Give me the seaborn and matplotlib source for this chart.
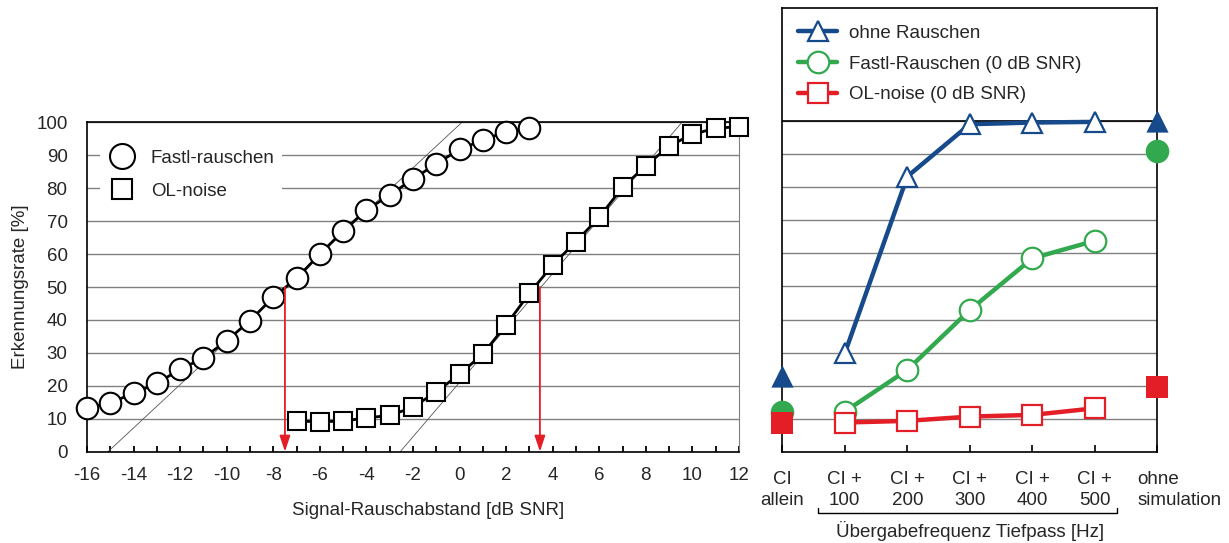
import matplotlib
matplotlib.use('Agg')
import matplotlib.pyplot as plt
import seaborn as sns
from matplotlib.lines import Line2D
from matplotlib import transforms

sns.set_style('white')
plt.rcParams['font.family'] = ['Liberation Sans', 'DejaVu Sans']
plt.rcParams['font.size'] = 13.5
plt.rcParams['axes.unicode_minus'] = False

# --- left panel: recognition rate vs SNR
snr_fastl = list(range(-16, 4))
rate_fastl = [13.2, 14.9, 17.7, 20.8, 25.0, 28.5, 33.7, 39.8, 46.9, 52.6,
              60.0, 67.0, 73.4, 77.9, 82.8, 87.4, 91.8, 94.6, 97.2, 98.2]
snr_ol = list(range(-7, 13))
rate_ol = [9.3, 9.1, 9.3, 10.3, 11.0, 13.5, 18.2, 23.5, 29.7, 38.5,
           48.1, 56.7, 63.8, 71.2, 80.3, 86.8, 92.8, 96.4, 98.2, 98.7]

# thin fit lines and 50% thresholds
fit_fastl_x = [-15.1, 0.1]
fit_ol_x = [-2.55, 9.55]
fit_y = [0, 100]
threshold_x = [-7.5, 3.45]
threshold_y = 50

# --- right panel: CI simulation conditions
conditions = ['CI\nallein', 'CI +\n100', 'CI +\n200', 'CI +\n300',
              'CI +\n400', 'CI +\n500', 'ohne\nsimulation']
lp_pos = [1, 2, 3, 4, 5]
quiet = [29.8, 83.2, 99.0, 99.5, 99.7]
fastl_0db = [12.2, 24.8, 42.9, 58.5, 63.8]
ol_0db = [8.9, 9.4, 10.7, 11.2, 13.2]
ci_alone = {'quiet': 23.0, 'fastl': 12.2, 'ol': 8.7}
no_sim = {'quiet': 100.0, 'fastl': 91.0, 'ol': 19.5}

blue = '#174a8b'
green = '#33a94f'
red = '#e41e26'
grid_c = '#808080'

fig = plt.figure(figsize=(12.29, 5.43), dpi=100)
ax1 = fig.add_axes([0.0708, 0.1681, 0.5305, 0.6066])
ax2 = fig.add_axes([0.6365, 0.1676, 0.3053, 0.8177])

# ---------- left
ax1.set_xlim(-16, 12)
ax1.set_ylim(0, 100)
ax1.set_yticks(range(0, 101, 10))
ax1.set_xticks(range(-16, 13, 2))
ax1.set_xticks(range(-16, 13, 1), minor=True)
ax1.grid(axis='y', color=grid_c, lw=1)
ax1.set_axisbelow(True)
ax1.tick_params(axis='y', length=0, pad=14)
ax1.tick_params(axis='x', which='both', direction='in', length=4, width=1.3,
                bottom=True, pad=11, color='black')
for s in ['left', 'bottom', 'top']:
    ax1.spines[s].set_color('black')
    ax1.spines[s].set_linewidth(1.2)
ax1.spines['right'].set_color(grid_c)

ax1.plot(fit_fastl_x, fit_y, color='#555555', lw=0.6, zorder=2)
ax1.plot(fit_ol_x, fit_y, color='#555555', lw=0.6, zorder=2)

sns.lineplot(x=snr_fastl, y=rate_fastl, ax=ax1, color='black', lw=2,
             marker='o', markersize=15.5, markerfacecolor='white',
             markeredgecolor='black', markeredgewidth=1.5, clip_on=False, zorder=4)
sns.lineplot(x=snr_ol, y=rate_ol, ax=ax1, color='black', lw=2,
             marker='s', markersize=13.5, markerfacecolor='white',
             markeredgecolor='black', markeredgewidth=1.5, clip_on=False, zorder=4)

for tx in threshold_x:
    ax1.annotate('', xy=(tx, 0), xytext=(tx, threshold_y),
                 arrowprops=dict(arrowstyle='-|>,head_length=0.6,head_width=0.2',
                                 color=red, lw=1.3, mutation_scale=16,
                                 shrinkA=0, shrinkB=0), zorder=5)

handles_l = [Line2D([], [], ls='none', marker='o', ms=18, mfc='white', mec='black', mew=1.5),
             Line2D([], [], ls='none', marker='s', ms=14, mfc='white', mec='black', mew=1.5)]
leg1 = ax1.legend(handles_l, ['Fastl-rauschen', 'OL-noise'], loc='upper left',
                  bbox_to_anchor=(0.02, 0.94), borderaxespad=0, borderpad=0.4,
                  handlelength=1.5, handletextpad=0.8, labelspacing=0.85,
                  frameon=True)
leg1.get_frame().set_facecolor('white')
leg1.get_frame().set_edgecolor('none')
leg1.get_frame().set_alpha(1)
leg1.get_frame().set_boxstyle('square', pad=0)

ax1.set_xlabel('Signal-Rauschabstand [dB SNR]')
ax1.xaxis.set_label_coords(0.523, -0.152)
ax1.set_ylabel('Erkennungsrate [%]')
ax1.yaxis.set_label_coords(-0.089, 0.5)

# ---------- right
ax2.set_xlim(0, 6)
ax2.set_ylim(0, 134.1)
ax2.set_yticks(range(0, 101, 10))
ax2.grid(axis='y', color=grid_c, lw=1)
ax2.set_axisbelow(True)
ax2.tick_params(axis='y', length=0, labelleft=False)
ax2.set_xticks(range(len(conditions)))
ax2.set_xticklabels(conditions, linespacing=1.3)
ax2.tick_params(axis='x', direction='in', length=5, width=1.2, bottom=True,
                pad=14, color='black')
for s in ax2.spines.values():
    s.set_color('black')
    s.set_linewidth(1.2)
ax2.axhline(100, color='black', lw=1.2, zorder=1.5)

last = ax2.get_xticklabels()[-1]
last.set_horizontalalignment('left')
last.set_multialignment('left')
last.set_transform(last.get_transform() +
                   transforms.ScaledTranslation(-0.2, 0, fig.dpi_scale_trans))

series = [(quiet, blue, '^', 14.5, 'quiet'),
          (fastl_0db, green, 'o', 15.5, 'fastl'),
          (ol_0db, red, 's', 14.5, 'ol')]
for vals, col, mk, ms, key in series:
    sns.lineplot(x=lp_pos, y=vals, ax=ax2, color=col, lw=3.2, marker=mk,
                 markersize=ms, markerfacecolor='white', markeredgecolor=col,
                 markeredgewidth=1.6, clip_on=False, zorder=4)
    sns.scatterplot(x=[0, 6], y=[ci_alone[key], no_sim[key]], ax=ax2, marker=mk,
                    s=(ms + 1.5) ** 2, color=col, linewidth=0, clip_on=False, zorder=5)

handles_r = [Line2D([], [], color=c, lw=3.2, marker=m, ms=ms, mfc='white', mec=c,
                    mew=1.6, solid_capstyle='round')
             for _, c, m, ms, _ in series]
ax2.legend(handles_r, ['ohne Rauschen', 'Fastl-Rauschen (0 dB SNR)', 'OL-noise (0 dB SNR)'],
           loc='upper left', bbox_to_anchor=(0.042, 0.962), borderaxespad=0,
           borderpad=0, handlelength=2.1, handletextpad=0.6, labelspacing=0.72,
           frameon=False)

# bracket under the low-pass conditions
bt = transforms.blended_transform_factory(ax2.transData, ax2.transAxes)
ax2.plot([0.57, 0.57, 5.36, 5.36], [-0.126, -0.137, -0.137, -0.126], transform=bt,
         color='black', lw=1, clip_on=False)
ax2.text(3.0, -0.178, 'Übergabefrequenz Tiefpass [Hz]', transform=bt,
         ha='center', va='center')

fig.savefig('out.png', dpi=100)
